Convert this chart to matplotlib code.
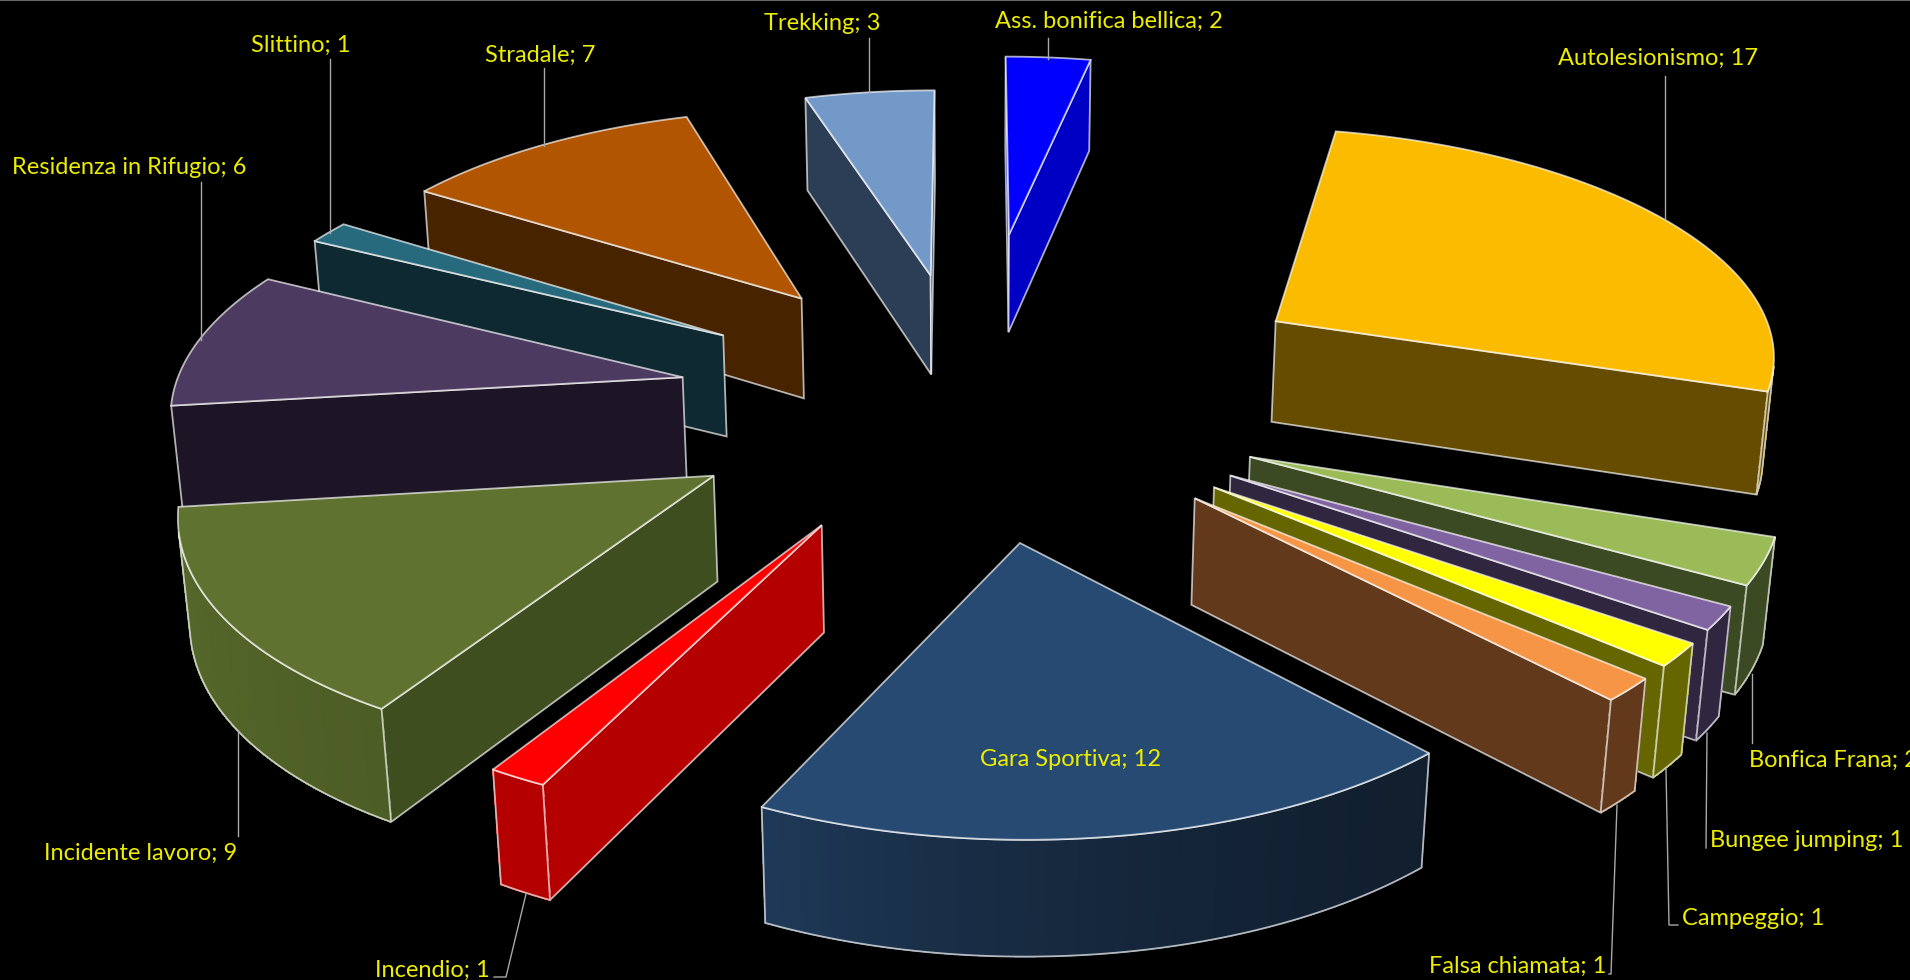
import numpy as np
import matplotlib
matplotlib.use("Agg")
import matplotlib.pyplot as plt
from matplotlib.patches import Polygon
from matplotlib.colors import to_rgb

# dati
categorie = ["Ass. bonifica bellica", "Autolesionismo", "Bonfica Frana", "Bungee jumping", "Campeggio",
             "Falsa chiamata", "Gara Sportiva", "Incendio", "Incidente lavoro", "Residenza in Rifugio",
             "Slittino", "Stradale", "Trekking"]
valori = [2, 17, 2, 1, 1, 1, 12, 1, 9, 6, 1, 7, 3]

# stile
col_sopra = ["#0000ff", "#fbbc00", "#9bbb59", "#8063a1", "#ffff00", "#f79546", "#274a72",
             "#ff0000", "#60722f", "#4d3a60", "#276a7e", "#b15500", "#7399c8"]
col_lato = ["#0000c4", "#664c00", "#3b4a22", "#30263f", "#666600", "#62391b", "#101d2c",
            "#b50000", "#3f4e1f", "#1d1426", "#0e2931", "#472300", "#2c3e55"]
schiarito = [0, 0, 0, 0, 0, 0, 1.2, 0, 0.7, 0, 0, 0, 0]
esplosione = [0.7839, 0.7131, 0.5814, 0.5815, 0.582, 0.582, 0.5869, 0.5828, 0.5826, 0.5828, 0.5815, 0.582, 0.5819]

# posizione etichette: x sinistra, y centro
pos_etichette = [(995, 21), (1558, 58), (1749, 760), (1710, 840), (1682, 918), (1429, 966), (980, 759),
                 (375, 970), (44, 853), (12, 168), (251, 45), (485, 55), (764, 23)]
linee_guida = [
    [(1048, 38), (1048, 59)],
    [(1665, 76), (1665, 219)],
    [(1752, 674), (1752, 743)],
    [(1707, 733), (1706, 848)],
    [(1666, 769), (1669, 925), (1678, 925)],
    [(1617, 805), (1611, 974), (1609, 974)],
    [],
    [(526, 894), (506, 977), (494, 977)],
    [(238, 730), (238, 836)],
    [(201, 182), (201, 340)],
    [(329.5, 59), (329.5, 233)],
    [(544, 68), (544, 146)],
    [(869, 38), (869, 92)],
]

# camera della prospettiva
fx, fy, dist, elev = 4134.2, 3926.0, 8.1025, 0.4955
cx, cy, spessore = 972.3, 400.3, 0.2459


def proietta(X, Y, Z):
    yc = Y*np.sin(elev) + Z*np.cos(elev)
    zc = dist + Y*np.cos(elev) - Z*np.sin(elev)
    return np.c_[cx + fx*X/zc, cy - fy*yc/zc]


def area(q):
    x, y = q[:, 0], q[:, 1]
    return 0.5*np.sum(x*np.roll(y, -1) - np.roll(x, -1)*y)


v = np.array(valori, float)
lim = np.concatenate([[0], np.cumsum(v)])/v.sum()*2*np.pi

fig = plt.figure(figsize=(19.1, 9.8), dpi=100, facecolor="black")
ax = fig.add_axes([0, 0, 1, 1])
ax.set_xlim(0, 1910)
ax.set_ylim(980, 0)
ax.axis("off")

BORDO = (1, 1, 1, 0.68)

# dal piu lontano al piu vicino
medi = (lim[:-1] + lim[1:])/2
prof = [(esplosione[i] + 0.6)*np.cos(medi[i]) for i in range(len(v))]

for i in np.argsort(prof)[::-1]:
    t = np.linspace(lim[i], lim[i+1], max(int(valori[i]*6), 6) + 1)
    ox, oy = esplosione[i]*np.sin(medi[i]), esplosione[i]*np.cos(medi[i])
    X = np.r_[ox, ox + np.sin(t)]
    Y = np.r_[oy, oy + np.cos(t)]
    su = proietta(X, Y, np.zeros_like(X))
    giu = proietta(X, Y, -spessore*np.ones_like(X))
    n = len(X)

    # facce radiali
    for a, b in ((0, 1), (n-1, 0)):
        q = np.array([su[a], su[b], giu[b], giu[a]])
        if area(q) < 0:
            ax.add_patch(Polygon(q, fc=col_lato[i], ec=BORDO, lw=1.3))

    # parete esterna a strisce
    c0 = np.array(to_rgb(col_lato[i]))
    c1 = np.array(to_rgb(col_sopra[i]))
    vis = []
    for k in range(1, n-1):
        q = np.array([su[k], su[k+1], giu[k+1], giu[k]])
        if area(q) < 0:
            vis.append(k)
            f = schiarito[i]*(0.5 - 0.5*np.sin((t[k-1] + t[k])/2))**2
            col = c0 + (c1 - c0)*f
            ax.add_patch(Polygon(q, fc=col, ec=col, lw=0.6, antialiased=False))
    if vis:
        idx = vis + [vis[-1] + 1]
        ax.add_patch(Polygon(np.r_[su[idx], giu[idx][::-1]], fill=False, ec=BORDO, lw=1.3))

    ax.add_patch(Polygon(su, fc=col_sopra[i], ec=BORDO, lw=1.3))

for i, nome in enumerate(categorie):
    if linee_guida[i]:
        g = np.array(linee_guida[i])
        ax.plot(g[:, 0], g[:, 1], color="#a8a8a8", lw=1, zorder=5)
    ax.text(pos_etichette[i][0], pos_etichette[i][1], f"{nome}; {valori[i]}", color="#eded00",
            fontsize=17, family="Lato", ha="left", va="center", zorder=6)

ax.plot([0, 1910], [0.5, 0.5], color="#666666", lw=1.5, zorder=6)

fig.savefig("out.png", dpi=100, facecolor="black")
